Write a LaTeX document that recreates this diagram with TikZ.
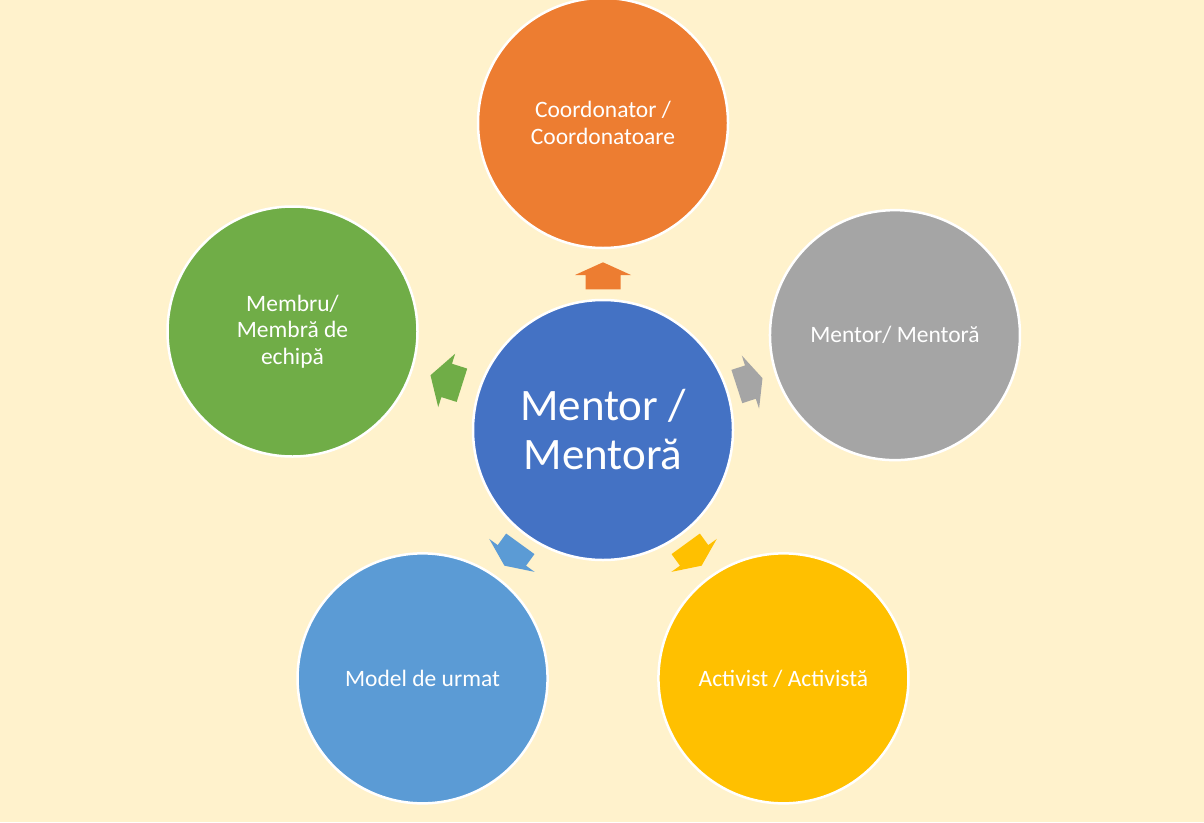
\documentclass[tikz,border=0pt]{standalone}
\usepackage{fontspec}
\setmainfont{Carlito}
\usetikzlibrary{calc}
\definecolor{bgc}{HTML}{FFF2CC}
\definecolor{cblue}{HTML}{4472C4}
\definecolor{corange}{HTML}{ED7D31}
\definecolor{cgray}{HTML}{A5A5A5}
\definecolor{cyellow}{HTML}{FFC000}
\definecolor{clblue}{HTML}{5B9BD5}
\definecolor{cgreen}{HTML}{70AD47}
\tikzset{
  bubble/.style={circle, draw=white, line width=2.5pt, minimum size=250pt, inner sep=0pt,
    text=white, align=center, font=\fontsize{23.5}{26.5}\selectfont},
  hub/.style={bubble, minimum size=260pt, font=\fontsize{45}{49}\selectfont},
}
\begin{document}
\begin{tikzpicture}[x=1pt,y=1pt]
\fill[bgc] (0,0) rectangle (1204,-822);
\useasboundingbox (0,0) rectangle (1204,-822);
\node[hub, fill=cblue] (c) at (603,-430) {Mentor /\\Mentoră};
\node[bubble, fill=corange] (o1) at ($(c)+(90:307)$) {Coordonator /\\Coordonatoare};
\node[bubble, fill=cgray] (o2) at ($(c)+(18:307)$) {Mentor/ Mentoră};
\node[bubble, fill=cyellow] (o3) at ($(c)+(-54:307)$) {Activist / Activistă};
\node[bubble, fill=clblue] (o4) at ($(c)+(-126:307)$) {Model de urmat};
\node[bubble, fill=cgreen] (o5) at (292.5,-331.5) {Membru/\\Membră de\\echipă};
\foreach \a/\col/\s/\b/\t in {90/corange/140.7/155/167.7,18/cgray/140.7/155/167.7,-54/cyellow/140.7/155/167.7,-126/clblue/140.7/155/167.7,162.4/cgreen/148/164/181}{
  \begin{scope}[shift={(c.center)}, rotate=\a]
    \fill[\col] (\s,-17.5) -- (\b,-17.5) -- (\b,-28) -- (\t,0) -- (\b,28) -- (\b,17.5) -- (\s,17.5) -- cycle;
  \end{scope}
}
\end{tikzpicture}
\end{document}
